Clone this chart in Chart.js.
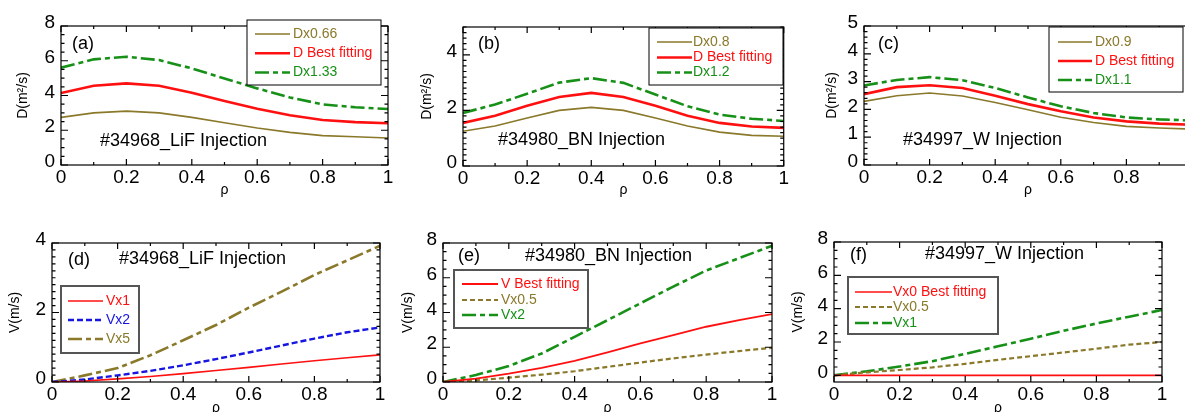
<!DOCTYPE html>
<html>
<head>
<meta charset="utf-8">
<script src="https://cdn.jsdelivr.net/npm/chart.js@4.4.0/dist/chart.umd.min.js"></script>
<style>
  html, body { margin: 0; padding: 0; background: #fff; }
  #wrap { position: relative; width: 1185px; height: 412px; overflow: hidden; }
  #wrap canvas { position: absolute; }
</style>
</head>
<body>
<div id="wrap"></div>
<script>
// normalised radius, shared by every panel
const rho = [0, 0.1, 0.2, 0.3, 0.4, 0.5, 0.6, 0.7, 0.8, 0.9, 1];
const rhoTicks = [0, 0.2, 0.4, 0.6, 0.8, 1];

// (a) D, #34968 LiF
const lifD066 = [2.74, 3.0, 3.1, 3.0, 2.74, 2.43, 2.13, 1.88, 1.69, 1.63, 1.55];
const lifDbest = [4.14, 4.56, 4.70, 4.56, 4.16, 3.68, 3.24, 2.86, 2.59, 2.47, 2.40];
const lifD133 = [5.60, 6.08, 6.23, 6.04, 5.56, 4.98, 4.41, 3.89, 3.49, 3.32, 3.22];
const yTicksA = [0, 2, 4, 6, 8];

// (b) D, #34980 BN
const bnD08 = [1.25, 1.44, 1.73, 2.0, 2.11, 2.0, 1.73, 1.44, 1.22, 1.10, 1.07];
const bnDbest = [1.55, 1.81, 2.17, 2.48, 2.63, 2.48, 2.17, 1.81, 1.55, 1.42, 1.37];
const bnD12 = [1.91, 2.21, 2.60, 3.0, 3.16, 2.99, 2.57, 2.15, 1.85, 1.70, 1.62];
const yTicksB = [0, 2, 4];

// (c) D, #34997 W
const wD09 = [2.29, 2.49, 2.59, 2.48, 2.25, 1.99, 1.72, 1.53, 1.39, 1.33, 1.29];
const wDbest = [2.55, 2.80, 2.87, 2.77, 2.49, 2.19, 1.93, 1.71, 1.57, 1.49, 1.45];
const wD11 = [2.86, 3.06, 3.16, 3.05, 2.77, 2.43, 2.11, 1.87, 1.71, 1.64, 1.60];
const yTicksC = [0, 1, 2, 3, 4, 5];

// (d) V, #34968 LiF
const lifVx1 = [0, 0.03, 0.09, 0.16, 0.24, 0.33, 0.42, 0.52, 0.61, 0.70, 0.78];
const lifVx2 = [0, 0.07, 0.19, 0.32, 0.48, 0.66, 0.85, 1.05, 1.25, 1.43, 1.57];
const lifVx5 = [0, 0.19, 0.40, 0.77, 1.20, 1.64, 2.14, 2.60, 3.08, 3.50, 3.92];
const yTicksD = [0, 2, 4];

// (e) V, #34980 BN
const bnVbest = [0, 0.2, 0.48, 0.81, 1.21, 1.70, 2.22, 2.70, 3.18, 3.56, 3.91];
const bnVx05 = [0, 0.09, 0.25, 0.42, 0.62, 0.87, 1.12, 1.36, 1.58, 1.78, 1.97];
const bnVx2 = [0, 0.40, 0.92, 1.64, 2.60, 3.56, 4.53, 5.49, 6.42, 7.13, 7.84];
const yTicksE = [0, 2, 4, 6, 8];

// (f) V, #34997 W
const wVx0 = [0, 0, 0, 0, 0, 0, 0, 0, 0, 0, 0];
const wVx05 = [0, 0.18, 0.32, 0.48, 0.69, 0.93, 1.15, 1.37, 1.60, 1.84, 2.0];
const wVx1 = [0, 0.24, 0.53, 0.85, 1.29, 1.74, 2.20, 2.67, 3.11, 3.52, 3.92];
const yTicksF = [0, 2, 4, 6, 8];

const FONT = '"Liberation Sans", Arial, Helvetica, sans-serif';
const OLIVE = '#8a792b';
const RED = '#ff1010';
const GREEN = '#179018';
const BLUE = '#1616e0';
const DASHDOT = [14, 4, 5, 4];
const DASH = [6, 3];

// panel (c) is cut by the right edge of the figure, so its canvas runs past it
const panels = [
  { left: 0, top: 0, cw: 395, plot: [61, 26, 388, 165], yr: [0, 8], yTicks: yTicksA, yMinor: 0.5,
    yTitle: 'D(m²/s)', yTitleX: 23, xTitlePad: 7.6,
    tag: ['(a)', 72, 44], note: ['#34968_LiF Injection', 100, 141],
    legend: { box: [247, 20, 381, 85], rows: [34, 53.3, 72.5], line: [255, 290], text: 293, border: '#000', bw: 1 },
    sets: [['Dx0.66', lifD066, OLIVE, 1.6, []], ['D Best fitting', lifDbest, RED, 2.6, []], ['Dx1.33', lifD133, GREEN, 2.6, DASHDOT]] },
  { left: 395, top: 0, cw: 395, plot: [68, 27, 394, 166], yr: [0, 5], yTicks: yTicksB, yMinor: 0.2,
    yTitle: 'D(m²/s)', yTitleX: 32, xTitlePad: 7.6,
    tag: ['(b)', 83, 44], note: ['#34980_BN Injection', 103, 140],
    legend: { box: [254, 28, 388, 85], rows: [42, 57.5, 72.5], line: [262, 297], text: 298, border: '#000', bw: 1 },
    sets: [['Dx0.8', bnD08, OLIVE, 1.6, []], ['D Best fitting', bnDbest, RED, 2.6, []], ['Dx1.2', bnD12, GREEN, 2.6, DASHDOT]] },
  { left: 790, top: 0, cw: 425, plot: [74, 26, 402, 165], yr: [0, 5], yTicks: yTicksC, yMinor: 0.2,
    yTitle: 'D(m²/s)', yTitleX: 42, xTitlePad: 7.6,
    tag: ['(c)', 88, 44], note: ['#34997_W Injection', 113, 140],
    legend: { box: [259, 27, 393, 92], rows: [42, 61, 80], line: [268, 302], text: 305, border: '#000', bw: 1 },
    sets: [['Dx0.9', wD09, OLIVE, 1.6, []], ['D Best fitting', wDbest, RED, 2.6, []], ['Dx1.1', wD11, GREEN, 2.6, DASHDOT]] },
  { left: 0, top: 206, cw: 395, plot: [52, 37, 380, 176], yr: [0, 4], yTicks: yTicksD, yMinor: 0.2,
    yTitle: 'V(m/s)', yTitleX: 15, xTitlePad: -4.9,
    tag: ['(d)', 68, 54], note: ['#34968_LiF Injection', 119, 53],
    legend: { box: [61, 80, 139, 147], rows: [95, 114, 133], line: [68, 103], text: 106, border: '#555', bw: 2 },
    sets: [['Vx1', lifVx1, RED, 1.6, []], ['Vx2', lifVx2, BLUE, 2.4, DASH], ['Vx5', lifVx5, OLIVE, 2.6, DASHDOT]] },
  { left: 395, top: 206, cw: 395, plot: [48, 37, 377, 176], yr: [0, 8], yTicks: yTicksE, yMinor: 0.5,
    yTitle: 'V(m/s)', yTitleX: 13, xTitlePad: -4.9,
    tag: ['(e)', 63, 50], note: ['#34980_BN Injection', 130, 50],
    legend: { box: [59, 64, 193, 122], rows: [78, 94, 109], line: [67, 103], text: 106, border: '#555', bw: 2 },
    sets: [['V Best fitting', bnVbest, RED, 1.8, []], ['Vx0.5', bnVx05, OLIVE, 2.2, [5, 3]], ['Vx2', bnVx2, GREEN, 2.6, DASHDOT]] },
  { left: 790, top: 206, cw: 395, plot: [44, 36, 372, 176], yr: [-0.4, 8], yTicks: yTicksF, yMinor: 0.5,
    yTitle: 'V(m/s)', yTitleX: 8, xTitlePad: -4.9,
    tag: ['(f)', 60, 49], note: ['#34997_W Injection', 135, 48],
    legend: { box: [58, 71, 208, 128], rows: [86, 101, 117], line: [65, 102], text: 103, border: '#555', bw: 2 },
    sets: [['Vx0 Best fitting', wVx0, RED, 1.6, []], ['Vx0.5', wVx05, OLIVE, 2.2, [5, 3]], ['Vx1', wVx1, GREEN, 2.6, DASHDOT]] },
];

// box, inward ticks on all four sides, legend and the panel texts
const decorPlugin = {
  id: 'decor',
  afterDatasetsDraw(chart) {
    const p = chart.options.plugins.decor.panel;
    const { ctx, chartArea: a } = chart;
    const xs = chart.scales.x, ys = chart.scales.y;
    ctx.save();
    ctx.strokeStyle = '#000';
    ctx.lineWidth = 1.2;
    ctx.setLineDash([]);
    ctx.strokeRect(a.left, a.top, a.right - a.left, a.bottom - a.top);

    ctx.beginPath();
    const xTick = (v, len) => {
      const px = xs.getPixelForValue(v);
      ctx.moveTo(px, a.bottom); ctx.lineTo(px, a.bottom - len);
      ctx.moveTo(px, a.top); ctx.lineTo(px, a.top + len);
    };
    const yTick = (v, len) => {
      const py = ys.getPixelForValue(v);
      ctx.moveTo(a.left, py); ctx.lineTo(a.left + len, py);
      ctx.moveTo(a.right, py); ctx.lineTo(a.right - len, py);
    };
    xs.ticks.forEach(t => xTick(t.value, 6));
    for (let i = 1; i < 10; i += 2) xTick(i * 0.1, 3);
    ys.ticks.forEach(t => yTick(t.value, 7));
    const n0 = Math.ceil(ys.min / p.yMinor - 1e-6), n1 = Math.floor(ys.max / p.yMinor + 1e-6);
    for (let i = n0; i <= n1; i++) {
      const v = i * p.yMinor;
      if (!ys.ticks.some(t => Math.abs(t.value - v) < 1e-6)) yTick(v, 3.5);
    }
    ctx.stroke();

    // legend
    const L = p.legend;
    ctx.fillStyle = '#fff';
    ctx.fillRect(L.box[0], L.box[1], L.box[2] - L.box[0], L.box[3] - L.box[1]);
    ctx.strokeStyle = L.border;
    ctx.lineWidth = L.bw;
    ctx.strokeRect(L.box[0], L.box[1], L.box[2] - L.box[0], L.box[3] - L.box[1]);
    ctx.font = '14px ' + FONT;
    ctx.textBaseline = 'middle';
    ctx.textAlign = 'left';
    chart.data.datasets.forEach((ds, i) => {
      const y = L.rows[i];
      ctx.strokeStyle = ds.borderColor;
      ctx.lineWidth = ds.borderWidth;
      ctx.setLineDash(ds.borderDash);
      ctx.beginPath();
      ctx.moveTo(L.line[0], y); ctx.lineTo(L.line[1], y);
      ctx.stroke();
      ctx.setLineDash([]);
      ctx.fillStyle = ds.borderColor;
      ctx.fillText(ds.label, L.text, y);
    });

    ctx.fillStyle = '#000';
    ctx.font = '18px ' + FONT;
    ctx.fillText(p.tag[0], p.tag[1], p.tag[2]);
    ctx.fillText(p.note[0], p.note[1], p.note[2]);
    ctx.restore();
  }
};

const wrap = document.getElementById('wrap');
const H = 206;

panels.forEach(p => {
  const W = p.cw;
  const cv = document.createElement('canvas');
  cv.width = W; cv.height = H;
  cv.style.left = p.left + 'px';
  cv.style.top = p.top + 'px';
  cv.style.width = W + 'px';
  cv.style.height = H + 'px';
  wrap.appendChild(cv);

  new Chart(cv, {
    type: 'line',
    data: {
      datasets: p.sets.map(s => ({
        label: s[0],
        data: rho.map((r, i) => ({ x: r, y: s[1][i] })),
        borderColor: s[2],
        borderWidth: s[3],
        borderDash: s[4],
        pointRadius: 0,
        fill: false,
        tension: 0,
      })),
    },
    options: {
      responsive: false,
      animation: false,
      devicePixelRatio: 1,
      layout: { autoPadding: false, padding: { left: 0, top: p.plot[1], right: W - p.plot[2], bottom: 0 } },
      plugins: { legend: { display: false }, tooltip: { enabled: false }, decor: { panel: p } },
      scales: {
        x: {
          type: 'linear', min: 0, max: 1,
          grid: { display: false, drawTicks: false },
          border: { display: false },
          afterBuildTicks: s => { s.ticks = rhoTicks.map(v => ({ value: v })); },
          afterFit: s => { s.height = H - p.plot[3]; },
          ticks: { color: '#000', font: { size: 19, family: FONT }, padding: 1, maxRotation: 0, autoSkip: false,
                   callback: v => String(v) },
          title: { display: true, text: 'ρ', color: '#000', font: { size: 14, family: FONT },
                   padding: { top: 0, bottom: p.xTitlePad } },
        },
        y: {
          type: 'linear', min: p.yr[0], max: p.yr[1],
          grid: { display: false, drawTicks: false },
          border: { display: false },
          afterBuildTicks: s => { s.ticks = p.yTicks.map(v => ({ value: v })); },
          afterFit: s => { s.width = p.plot[0]; },
          ticks: { color: '#000', font: { size: 19, family: FONT }, padding: 6, labelOffset: -3,
                   callback: v => String(v) },
          title: { display: true, text: p.yTitle, color: '#000', font: { size: 14, family: FONT },
                   padding: { top: p.yTitleX - 8.4, bottom: 0 } },
        },
      },
    },
    plugins: [decorPlugin],
  });
});
</script>
</body>
</html>
